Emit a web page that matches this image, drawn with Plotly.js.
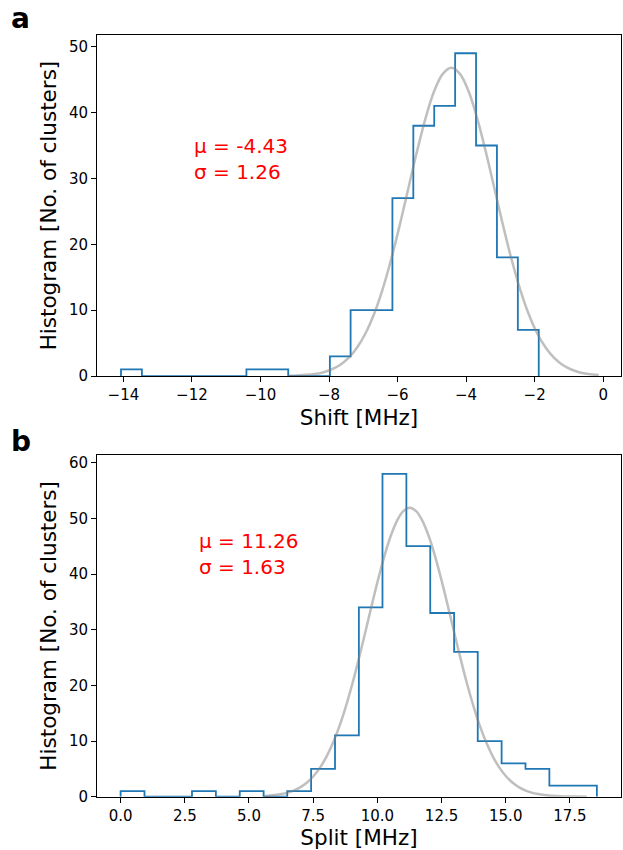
<!DOCTYPE html>
<html>
<head>
<meta charset="utf-8">
<script src="https://cdn.plot.ly/plotly-3.0.1.min.js"></script>
<style>html,body{margin:0;padding:0;background:#fff;}#chart{width:623px;height:850px;}</style>
</head>
<body>
<div id="chart"></div>
<script>
// ---- Panel a: Shift histogram ----
var shiftEdges = [-14.07, -13.46, -12.85, -12.24, -11.63, -11.02, -10.41, -9.80, -9.19, -8.58,
                  -7.975, -7.37, -6.76, -6.15, -5.54, -4.93, -4.32, -3.71, -3.10, -2.49, -1.88];
var shiftCounts = [1, 0, 0, 0, 0, 0, 1, 1, 0, 0, 3, 10, 10, 27, 38, 41, 49, 35, 18, 7];
var shiftFitX = [-9.2, -8.93, -8.43, -8.18, -7.93, -7.68, -7.43, -7.18, -6.93, -6.68, -6.43, -6.18,
                 -5.93, -5.68, -5.43, -5.18, -4.93, -4.68, -4.43, -4.18, -3.93, -3.68, -3.43, -3.18,
                 -2.93, -2.68, -2.43, -2.18, -1.93, -1.68, -1.43, -1.18, -0.93, -0.68, -0.43, -0.13];
var shiftFitY = [0.04, 0.08, 0.30, 0.55, 0.99, 1.68, 2.75, 4.33, 6.54, 9.50, 13.28, 17.84,
                 23.04, 28.61, 34.16, 39.20, 43.26, 45.88, 46.80, 45.88, 43.26, 39.20, 34.16, 28.61,
                 23.04, 17.84, 13.28, 9.50, 6.54, 4.33, 2.75, 1.68, 0.99, 0.55, 0.30, 0.14];
var shiftStats = ["μ = -4.43", "σ = 1.26"];
var shiftXTicks = [-14, -12, -10, -8, -6, -4, -2, 0];
var shiftYTicks = [0, 10, 20, 30, 40, 50];

// ---- Panel b: Split histogram ----
var splitEdges = [0.00, 0.93, 1.86, 2.78, 3.71, 4.64, 5.57, 6.49, 7.42, 8.35,
                  9.28, 10.20, 11.13, 12.06, 12.99, 13.91, 14.84, 15.77, 16.70, 17.63, 18.55];
var splitCounts = [1, 0, 0, 1, 0, 1, 0, 1, 5, 11, 34, 58, 45, 33, 26, 10, 6, 5, 2, 2];
var splitFitX = [5.6, 5.76, 6.01, 6.26, 6.51, 6.76, 7.01, 7.26, 7.51, 7.76, 8.01, 8.26, 8.51, 8.76,
                 9.01, 9.26, 9.51, 9.76, 10.01, 10.26, 10.51, 10.76, 11.01, 11.26, 11.51, 11.76,
                 12.01, 12.26, 12.51, 12.76, 13.01, 13.26, 13.51, 13.76, 14.01, 14.26, 14.51, 14.76,
                 15.01, 15.26, 15.51, 15.76, 16.01, 16.26, 16.51, 16.76, 17.26, 17.76, 18.16];
var splitFitY = [0.12, 0.17, 0.29, 0.47, 0.74, 1.15, 1.73, 2.56, 3.68, 5.18, 7.11, 9.54, 12.50, 16.01,
                 20.02, 24.45, 29.17, 33.98, 38.68, 43.00, 46.69, 49.51, 51.29, 51.90, 51.29, 49.51,
                 46.69, 43.00, 38.68, 33.98, 29.17, 24.45, 20.02, 16.01, 12.50, 9.54, 7.11, 5.18,
                 3.68, 2.56, 1.73, 1.15, 0.74, 0.47, 0.29, 0.17, 0.06, 0.02, 0.01];
var splitStats = ["μ = 11.26", "σ = 1.63"];
var splitXTicks = [0, 2.5, 5, 7.5, 10, 12.5, 15, 17.5];
var splitYTicks = [0, 10, 20, 30, 40, 50, 60];

var xTitles = ["Shift [MHz]", "Split [MHz]"];
var yTitle = "Histogram [No. of clusters]";
var panelLabels = ["a", "b"];

function stepXY(edges, counts) {
  return { x: [edges[0]].concat(edges), y: [0].concat(counts).concat([0]) };
}

var FONT = "DejaVu Sans, Arial, sans-serif";
var BLUE = "#1f77b4";
var GRAY = "rgba(128,128,128,0.5)";

var sA = stepXY(shiftEdges, shiftCounts);
var sB = stepXY(splitEdges, splitCounts);

var traces = [
  {x: sA.x, y: sA.y, type: "scatter", mode: "lines", line: {shape: "hv", color: BLUE, width: 1.8}, xaxis: "x", yaxis: "y", hoverinfo: "skip"},
  {x: shiftFitX, y: shiftFitY, type: "scatter", mode: "lines", line: {shape: "spline", color: GRAY, width: 2.5}, xaxis: "x", yaxis: "y"},
  {x: sB.x, y: sB.y, type: "scatter", mode: "lines", line: {shape: "hv", color: BLUE, width: 1.8}, xaxis: "x2", yaxis: "y2", hoverinfo: "skip"},
  {x: splitFitX, y: splitFitY, type: "scatter", mode: "lines", line: {shape: "spline", color: GRAY, width: 2.5}, xaxis: "x2", yaxis: "y2"}
];

function axisCommon(extra) {
  var a = {
    showline: true, linecolor: "#000", linewidth: 1, mirror: true,
    ticks: "outside", ticklen: 5, tickwidth: 1, tickcolor: "#000",
    showgrid: false, zeroline: false, automargin: false,
    tickfont: {family: FONT, size: 15, color: "#000"}
  };
  for (var k in extra) a[k] = extra[k];
  return a;
}

var layout = {
  width: 623, height: 850,
  margin: {l: 97, r: 2, t: 0, b: 0},
  paper_bgcolor: "#fff", plot_bgcolor: "#fff",
  showlegend: false,
  font: {family: FONT, color: "#000"},
  xaxis: axisCommon({domain: [0, 1], range: [-14.77, 0.52], tickvals: shiftXTicks, anchor: "y",
    title: {text: xTitles[0], font: {family: FONT, size: 21.5, color: "#000"}, standoff: 6}}),
  yaxis: axisCommon({domain: [0.5576, 0.9588], range: [0, 51.77], tickvals: shiftYTicks, anchor: "x",
    title: {text: yTitle, font: {family: FONT, size: 21.5, color: "#000"}, standoff: 6}}),
  xaxis2: axisCommon({domain: [0, 1], range: [-0.92, 19.49], tickvals: splitXTicks, tickformat: ".1f", anchor: "y2",
    title: {text: xTitles[1], font: {family: FONT, size: 21.5, color: "#000"}, standoff: 6}}),
  yaxis2: axisCommon({domain: [0.0627, 0.4647], range: [0, 61.38], tickvals: splitYTicks, anchor: "x2",
    title: {text: yTitle, font: {family: FONT, size: 21.5, color: "#000"}, standoff: 6}}),
  annotations: [
    {xref: "paper", yref: "paper", x: 0.1808, y: 0.8125, xanchor: "left", yanchor: "middle", align: "left",
     showarrow: false, text: shiftStats.join("<br>"), font: {family: FONT, size: 20, color: "red"}},
    {xref: "paper", yref: "paper", x: 0.1909, y: 0.3488, xanchor: "left", yanchor: "middle", align: "left",
     showarrow: false, text: splitStats.join("<br>"), font: {family: FONT, size: 20, color: "red"}},
    {xref: "paper", yref: "paper", x: -0.168, y: 0.9785, xanchor: "left", yanchor: "middle",
     showarrow: false, text: "<b>" + panelLabels[0] + "</b>", font: {family: FONT, size: 28, color: "#000"}},
    {xref: "paper", yref: "paper", x: -0.168, y: 0.4805, xanchor: "left", yanchor: "middle",
     showarrow: false, text: "<b>" + panelLabels[1] + "</b>", font: {family: FONT, size: 28, color: "#000"}}
  ]
};

Plotly.newPlot("chart", traces, layout, {staticPlot: true, displayModeBar: false});
</script>
</body>
</html>
